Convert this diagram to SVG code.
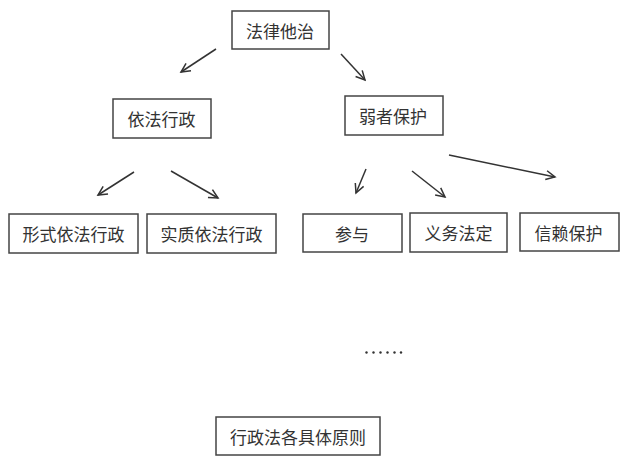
<svg xmlns="http://www.w3.org/2000/svg" width="621" height="459" viewBox="0 0 621 459">
<defs>
<marker id="ah" markerWidth="12" markerHeight="12" refX="10" refY="6" orient="auto" markerUnits="userSpaceOnUse">
<polyline points="1,1.5 10,6 1,10.5" fill="none" stroke="#333" stroke-width="1.5"/>
</marker>
<style>
.box{fill:#fff;stroke:#444;stroke-width:1.5}
.t{font-family:"Noto Sans CJK SC","Noto Sans",sans-serif;font-size:17px;fill:#333;text-anchor:middle;dominant-baseline:central}
.c{stroke:#333;stroke-width:1.5;fill:none;marker-end:url(#ah)}
</style>
</defs>
<rect width="621" height="459" fill="#fff"/>
<g id="connectors">
<line class="c" x1="216" y1="49" x2="181" y2="72"/>
<line class="c" x1="341" y1="54" x2="365" y2="80"/>
<line class="c" x1="134" y1="172" x2="98" y2="195"/>
<line class="c" x1="171" y1="171" x2="218" y2="198"/>
<line class="c" x1="366" y1="169" x2="356" y2="193"/>
<line class="c" x1="412" y1="171" x2="445" y2="197"/>
<line class="c" x1="449" y1="155" x2="555" y2="177"/>
</g>
<g id="n_fl"><rect class="box" x="232" y="11" width="97" height="38"/><text class="t" x="280" y="30">法律他治</text></g>
<g id="n_yfxz"><rect class="box" x="113" y="99" width="98" height="39"/><text class="t" x="161.5" y="118.5">依法行政</text></g>
<g id="n_rzbh"><rect class="box" x="345" y="96" width="98" height="39"/><text class="t" x="393" y="115.5">弱者保护</text></g>
<g id="n_xs"><rect class="box" x="9" y="214" width="129" height="39"/><text class="t" x="73.5" y="233.5">形式依法行政</text></g>
<g id="n_sz"><rect class="box" x="147" y="214" width="129" height="39"/><text class="t" x="211.5" y="233.5">实质依法行政</text></g>
<g id="n_cy"><rect class="box" x="303" y="214" width="99" height="38"/><text class="t" x="352" y="233">参与</text></g>
<g id="n_yw"><rect class="box" x="410" y="213" width="97" height="39"/><text class="t" x="458.5" y="232.5">义务法定</text></g>
<g id="n_xl"><rect class="box" x="520" y="213" width="99" height="38"/><text class="t" x="568.5" y="232">信赖保护</text></g>
<g id="dots" fill="#333">
<circle cx="366.5" cy="352.5" r="1.2"/><circle cx="373.5" cy="352.5" r="1.2"/><circle cx="380.5" cy="352.5" r="1.2"/><circle cx="387.5" cy="352.5" r="1.2"/><circle cx="394.5" cy="352.5" r="1.2"/><circle cx="401" cy="352.5" r="1.2"/>
</g>
<g id="n_all"><rect class="box" x="216" y="417" width="164" height="38"/><text class="t" x="298" y="436">行政法各具体原则</text></g>
</svg>
